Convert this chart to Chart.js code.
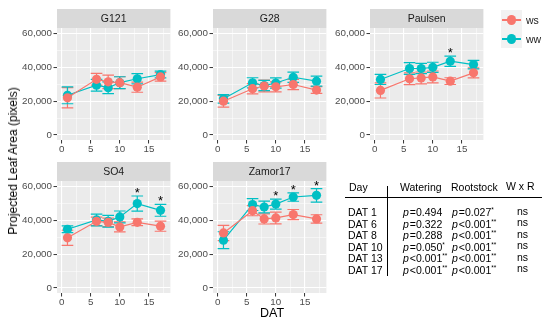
<!DOCTYPE html>
<html>
<head>
<meta charset="utf-8">
<script src="https://cdn.jsdelivr.net/npm/chart.js@4.4.0/dist/chart.umd.min.js"></script>
<style>
  body { margin:0; width:550px; height:326px; position:relative; background:#fff; overflow:hidden;
         font-family:"Liberation Sans", Arial, sans-serif; color:#000; }
  canvas, .lbl { position:absolute; }
  .lbl { white-space:nowrap; font-size:10.5px; line-height:12px; }
  .hl { position:absolute; background:#000; }
  sup { font-size:6.5px; vertical-align:4px; line-height:0; }
  i { font-style:italic; padding-right:1px; }
</style>
</head>
<body>
<script>
const days = [1, 6, 8, 10, 13, 17];
const rootstocks = ['G121', 'G28', 'Paulsen', 'SO4', 'Zamor17'];
const seriesNames = ['ws', 'ww'];

// means and standard errors, one row per rootstock
const wsMean = [
  [22000, 33000, 31500, 31000, 28300, 34400],
  [20000, 27400, 29000, 28500, 29900, 26600],
  [26400, 33300, 33800, 34400, 31900, 36800],
  [29700, 39500, 38900, 36200, 38900, 36600],
  [32600, 45800, 40900, 41500, 43500, 40900]
];
const wsSe = [
  [6000, 3500, 4000, 3500, 3000, 2500],
  [3500, 3000, 3500, 3000, 3000, 2000],
  [4500, 3500, 3500, 3500, 2000, 3000],
  [4500, 2500, 2500, 3000, 2000, 3000],
  [4500, 3000, 3000, 3500, 3000, 2500]
];
const wwMean = [
  [23500, 29500, 28000, 31000, 33300, 35800],
  [21400, 30900, 29300, 30800, 34200, 31900],
  [32900, 39400, 39400, 40100, 43700, 41700],
  [34800, 40300, 39500, 42100, 50000, 46000],
  [28300, 49400, 48000, 49700, 53900, 54900]
];
const wwSe = [
  [5000, 3500, 3500, 3500, 3000, 2000],
  [2500, 3000, 3000, 3000, 3000, 3000],
  [3000, 3500, 3000, 3000, 3000, 2500],
  [2000, 3500, 3500, 3500, 4500, 3500],
  [5000, 3500, 3500, 3000, 2500, 4000]
];
// days with a significant watering difference
const sigDays = [[], [], [13], [13, 17], [10, 13, 17]];

const xTicks = [0, 2.5, 5, 7.5, 10, 12.5, 15, 17.5];
const yTicks = [0, 10000, 20000, 30000, 40000, 50000, 60000];

// table
const tableHead = ['Day', 'Watering', 'Rootstock', 'W x R'];
const tableDays = ['DAT 1', 'DAT 6', 'DAT 8', 'DAT 10', 'DAT 13', 'DAT 17'];
const wateringP = ['=0.494', '=0.322', '=0.288', '=0.050', '<0.001', '<0.001'];
const wateringSig = ['', '', '', '*', '**', '**'];
const rootstockP = ['=0.027', '<0.001', '<0.001', '<0.001', '<0.001', '<0.001'];
const rootstockSig = ['*', '**', '**', '**', '**', '**'];
const interactionP = ['ns', 'ns', 'ns', 'ns', 'ns', 'ns'];

const RED = '#F8766D', TEAL = '#00BFC4';
const colors = [RED, TEAL];
const AXIS_W = 52, AXIS_H = 17, STRIP_H = 19, PLOT_W = 118, PLOT_H = 112;
const colX = [57, 213, 370], rowY = [9, 162];
const FONT = '"Liberation Sans", Arial, sans-serif';

const panelBg = {
  id: 'panelBg',
  beforeDraw(chart, args, opts) {
    const { ctx, chartArea: a } = chart;
    ctx.save();
    ctx.fillStyle = '#EBEBEB';
    ctx.fillRect(a.left, a.top, a.width, a.height);
    ctx.fillStyle = '#D9D9D9';
    ctx.fillRect(a.left, a.top - STRIP_H, a.width, STRIP_H);
    ctx.fillStyle = '#1A1A1A';
    ctx.font = '10.5px ' + FONT;
    ctx.textAlign = 'center';
    ctx.textBaseline = 'middle';
    ctx.fillText(opts.text, (a.left + a.right) / 2, a.top - STRIP_H / 2 + 0.5);
    ctx.restore();
  }
};

const errorBars = {
  id: 'errorBars',
  beforeDatasetsDraw(chart) {
    const { ctx, scales: { x, y } } = chart;
    chart.data.datasets.forEach(ds => {
      ctx.save();
      ctx.strokeStyle = ds.borderColor;
      ctx.lineWidth = 1.2;
      ds.data.forEach((p, j) => {
        const px = x.getPixelForValue(p.x);
        const lo = y.getPixelForValue(p.y - ds.se[j]);
        const hi = y.getPixelForValue(p.y + ds.se[j]);
        const xl = x.getPixelForValue(p.x - 1);
        const xr = x.getPixelForValue(p.x + 1);
        ctx.beginPath();
        ctx.moveTo(px, lo); ctx.lineTo(px, hi);
        ctx.moveTo(xl, lo); ctx.lineTo(xr, lo);
        ctx.moveTo(xl, hi); ctx.lineTo(xr, hi);
        ctx.stroke();
      });
      ctx.restore();
    });
  }
};

const stars = {
  id: 'stars',
  afterDatasetsDraw(chart, args, opts) {
    const { ctx, scales: { x, y } } = chart;
    const ds = chart.data.datasets[1];
    ctx.save();
    ctx.fillStyle = '#000';
    ctx.font = '13px ' + FONT;
    ctx.textAlign = 'center';
    ctx.textBaseline = 'alphabetic';
    opts.days.forEach(d => {
      const j = days.indexOf(d);
      const top = ds.data[j].y + ds.se[j];
      ctx.fillText('*', x.getPixelForValue(d), y.getPixelForValue(top) + 1);
    });
    ctx.restore();
  }
};

function makeDataset(k, means, ses) {
  return {
    label: seriesNames[k],
    data: days.map((d, j) => ({ x: d, y: means[j] })),
    se: ses,
    borderColor: colors[k],
    backgroundColor: colors[k],
    pointBackgroundColor: colors[k],
    pointBorderColor: colors[k],
    pointRadius: 4.6,
    pointBorderWidth: 0,
    borderWidth: 1.2,
    tension: 0
  };
}

function makePanel(i) {
  const cv = document.createElement('canvas');
  const w = AXIS_W + PLOT_W, h = STRIP_H + PLOT_H + AXIS_H;
  cv.width = w; cv.height = h;
  cv.style.left = (colX[i % 3] - AXIS_W) + 'px';
  cv.style.top = rowY[Math.floor(i / 3)] + 'px';
  cv.style.width = w + 'px'; cv.style.height = h + 'px';
  document.body.appendChild(cv);

  new Chart(cv, {
    type: 'line',
    data: { datasets: [makeDataset(0, wsMean[i], wsSe[i]), makeDataset(1, wwMean[i], wwSe[i])] },
    plugins: [panelBg, errorBars, stars],
    options: {
      responsive: false,
      animation: false,
      events: [],
      layout: { padding: { top: STRIP_H, left: 0, right: 0, bottom: 0 } },
      plugins: {
        legend: { display: false },
        tooltip: { enabled: false },
        panelBg: { text: rootstocks[i] },
        stars: { days: sigDays[i] }
      },
      scales: {
        x: {
          type: 'linear', min: -0.8, max: 18.7,
          afterBuildTicks: s => { s.ticks = xTicks.map(v => ({ value: v })); },
          afterFit: s => { s.height = AXIS_H; },
          border: { display: false },
          grid: {
            color: '#FFFFFF',
            lineWidth: c => (c.tick && c.tick.value % 5 === 0) ? 1.1 : 0.5,
            tickColor: c => (c.tick && c.tick.value % 5 === 0) ? '#333333' : 'rgba(0,0,0,0)',
            tickLength: 3.5,
            tickWidth: 1
          },
          ticks: {
            autoSkip: false, maxRotation: 0, padding: 0,
            color: '#4D4D4D', font: { family: FONT, size: 9.8 },
            callback: v => v % 5 === 0 ? String(v) : ''
          }
        },
        y: {
          type: 'linear', min: -3000, max: 63400,
          afterBuildTicks: s => { s.ticks = yTicks.map(v => ({ value: v })); },
          afterFit: s => { s.width = AXIS_W; },
          border: { display: false },
          grid: {
            color: '#FFFFFF',
            lineWidth: c => (c.tick && c.tick.value % 20000 === 0) ? 1.1 : 0.5,
            tickColor: c => (c.tick && c.tick.value % 20000 === 0) ? '#333333' : 'rgba(0,0,0,0)',
            tickLength: 3.5,
            tickWidth: 1
          },
          ticks: {
            autoSkip: false, padding: 1.5,
            color: '#4D4D4D', font: { family: FONT, size: 9.8 },
            callback: v => v % 20000 === 0 ? v.toLocaleString('en-US') : ''
          }
        }
      }
    }
  });
}

function addLabel(text, left, top, css) {
  const d = document.createElement('div');
  d.className = 'lbl';
  d.innerHTML = text;
  d.style.left = left + 'px';
  d.style.top = top + 'px';
  if (css) d.style.cssText += css;
  document.body.appendChild(d);
  return d;
}

function addLine(left, top, w, h) {
  const d = document.createElement('div');
  d.className = 'hl';
  d.style.cssText += `left:${left}px;top:${top}px;width:${w}px;height:${h}px;`;
  document.body.appendChild(d);
}

rootstocks.forEach((r, i) => makePanel(i));

// axis titles
addLabel('Projected Leaf Area (pixels)', 13, 161,
  'font-size:12px;line-height:14px;transform:translate(-50%,-50%) rotate(-90deg);');
addLabel('DAT', 272, 313, 'font-size:12.5px;line-height:14px;transform:translate(-50%,-50%);');

// legend
const key = document.createElement('div');
key.style.cssText = 'position:absolute;left:501px;top:10px;width:21px;height:38px;background:#F2F2F2;';
document.body.appendChild(key);
seriesNames.forEach((s, k) => {
  const cy = 20 + k * 19;
  const ln = document.createElement('div');
  ln.style.cssText = `position:absolute;left:502px;top:${cy - 0.6}px;width:19px;height:1.2px;background:${colors[k]};`;
  document.body.appendChild(ln);
  const dot = document.createElement('div');
  dot.style.cssText = `position:absolute;left:${511.5 - 4.6}px;top:${cy - 4.6}px;width:9.2px;height:9.2px;border-radius:50%;background:${colors[k]};`;
  document.body.appendChild(dot);
  addLabel(s, 526, cy - 6, 'color:#1A1A1A;');
});

// table
const rowTop = [206, 217.5, 229, 240.5, 252, 263.5];
addLabel(tableHead[0], 349, 181);
addLabel(tableHead[1], 400, 181);
addLabel(tableHead[2], 451, 181);
addLabel(tableHead[3], 506, 180);
addLine(345, 196.5, 197, 1.5);
addLine(386.5, 186, 1.5, 90);
tableDays.forEach((d, j) => {
  addLabel(d, 348, rowTop[j]);
  addLabel('<i>p</i>' + wateringP[j] + '<sup>' + wateringSig[j] + '</sup>', 403, rowTop[j]);
  addLabel('<i>p</i>' + rootstockP[j] + '<sup>' + rootstockSig[j] + '</sup>', 452, rowTop[j]);
  addLabel(interactionP[j], 517, rowTop[j] - 1.5);
});
</script>
</body>
</html>
